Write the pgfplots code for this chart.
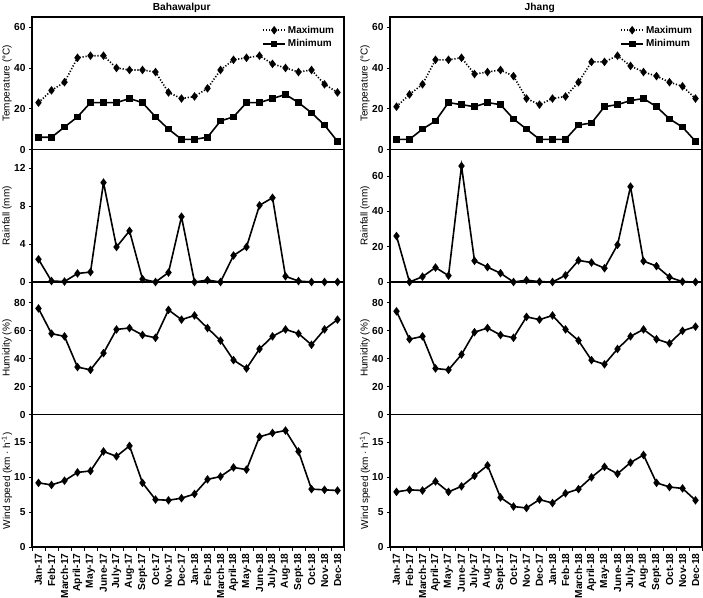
\documentclass[border=0pt]{standalone}
\usepackage{fontspec}
\setmainfont{Liberation Sans}
\usepackage{pgfplots}
\pgfplotsset{compat=1.18}
\usepackage{pgfplotstable}
\usepgfplotslibrary{groupplots}

% monthly means, Jan-17 .. Dec-18
\pgfplotstableread{
x  tmax tmin rain hum wind
0  23 6  2.4  76 9.2
1  29 6  0.1  58 8.9
2  33 11 0.05 56 9.5
3  45 16 0.9  34 10.7
4  46 23 1.05 32 10.9
5  46 23 10.5 44 13.7
6  40 23 3.7  61 13.0
7  39 25 5.4  62 14.5
8  39 23 0.3  57 9.2
9  38 16 0.0  55 6.8
10 28 10 1.0  75 6.7
11 25 5  6.9  68 7.0
12 26 5  0.0  71 7.6
13 30 6  0.2  62 9.7
14 39 14 0.0  53 10.1
15 44 16 2.8  39 11.4
16 45 23 3.7  33 11.1
17 46 23 8.1  47 15.8
18 42 25 8.9  56 16.35
19 40 27 0.6  61 16.7
20 38 23 0.1  58 13.7
21 39 18 0.0  50 8.3
22 32 12 0.0  61 8.2
23 28 4  0.0  68 8.1
}\bwp

\pgfplotstableread{
x  tmax tmin rain hum wind
0  21 5  26   74 7.9
1  27 5  0.0  54 8.2
2  32 10 3.0  56 8.1
3  44 14 8.2  33 9.4
4  44 23 3.6  32 7.9
5  45 22 65.7 43 8.7
6  37 21 12.0 59 10.2
7  38 23 8.4  62 11.7
8  39 22 5.0  57 7.1
9  36 15 0.0  55 5.8
10 25 10 1.0  70 5.6
11 22 5  0.2  68 6.8
12 25 5  0.0  71 6.3
13 26 5  3.8  61 7.7
14 33 12 12.2 53 8.3
15 43 13 11.0 39 10.0
16 43 21 7.8  36 11.5
17 46 22 21.0 47 10.5
18 41 24 54.0 56 12.1
19 38 25 11.8 61 13.2
20 36 21 9.0  54 9.2
21 33 15 2.7  51 8.6
22 31 11 0.2  60 8.4
23 25 4  0.0  63 6.7
}\jhg

\pgfplotsset{
  legend image code/.code={%
    \draw[mark repeat=2,mark phase=2] plot coordinates {(0pt,0pt)(11pt,0pt)(22pt,0pt)};},
  maxline/.style={black, line width=1.6pt, dash pattern=on 1.2pt off 1.8pt, mark=diamond*, mark size=3pt, mark options={solid}},
  minline/.style={black, line width=1.6pt, solid, mark=square*, mark size=2.5pt},
  dataline/.style={black, line width=1.6pt, solid, mark=diamond*, mark size=3pt},
  toplegend/.style={legend style={at={(0.985,0.965)}, anchor=north east, draw=none, fill=none,
    font=\bfseries\fontsize{10}{11}\selectfont, row sep=1pt, legend cell align=left,
    /tikz/every even column/.append style={column sep=2pt}}},
  bottomrow/.style={minor xtick={-0.5,0.5,...,23.5}},
}

\begin{document}
\begin{tikzpicture}
\begin{groupplot}[
  group style={group size=2 by 4, vertical sep=0pt, horizontal sep=46pt,
    xticklabels at=edge bottom, group name=group},
  scale only axis, width=312pt, height=132.5pt,
  xmin=-0.5, xmax=23.5,
  xtick={0,...,23},
  xticklabels={Jan-17,Feb-17,March-17,April-17,May-17,June-17,July-17,Aug-17,Sept-17,Oct-17,Nov-17,Dec-17,Jan-18,Feb-18,March-18,April-18,May-18,June-18,July-18,Aug-18,Sept-18,Oct-18,Nov-18,Dec-18},
  x tick label style={rotate=90, anchor=east},
  every major x tick/.append style={draw=none},
  ymin=0,
  ytick pos=left, xtick pos=bottom,
  tick align=outside,
  major tick length=3pt, minor tick length=4pt,
  tick style={black, line width=0.9pt},
  tick label style={font=\bfseries\fontsize{10.2}{11}\selectfont},
  /pgf/number format/assume math mode=true,
  label style={font=\bfseries\fontsize{10}{11}\selectfont},
  every axis y label/.style={at={(axis description cs:-0.08,0.5)}, rotate=90, anchor=center},
  title style={font=\bfseries\fontsize{10.2}{12}\selectfont, at={(0.48,1)}, anchor=base, inner sep=0pt, yshift=0pt},
  axis line style={line width=1.1pt},
]
% row 1: temperature
\nextgroupplot[ymax=65, ytick={0,20,40,60}, ylabel={Temperature (°C)}, title={Bahawalpur}, toplegend]
\addplot[maxline] table[x=x, y=tmax] {\bwp}; \addlegendentry{Maximum}
\addplot[minline] table[x=x, y=tmin] {\bwp}; \addlegendentry{Minimum}
\nextgroupplot[ymax=65, ytick={0,20,40,60}, ylabel={Temperature (°C)}, title={Jhang}, toplegend]
\addplot[maxline] table[x=x, y=tmax] {\jhg}; \addlegendentry{Maximum}
\addplot[minline] table[x=x, y=tmin] {\jhg}; \addlegendentry{Minimum}
% row 2: rainfall
\nextgroupplot[ymax=14, ytick={0,4,8,12}, ylabel={Rainfall (mm)}]
\addplot[dataline] table[x=x, y=rain] {\bwp};
\nextgroupplot[ymax=75, ytick={0,20,40,60}, ylabel={Rainfall (mm)}]
\addplot[dataline] table[x=x, y=rain] {\jhg};
% row 3: humidity
\nextgroupplot[ymax=95, ytick={0,20,40,60,80}, ylabel={Humidity (\%)}]
\addplot[dataline] table[x=x, y=hum] {\bwp};
\nextgroupplot[ymax=95, ytick={0,20,40,60,80}, ylabel={Humidity (\%)}]
\addplot[dataline] table[x=x, y=hum] {\jhg};
% row 4: wind speed
\nextgroupplot[ymax=19, ytick={0,5,10,15}, ylabel={Wind speed (km · h\textsuperscript{-1})}, bottomrow]
\addplot[dataline] table[x=x, y=wind] {\bwp};
\nextgroupplot[ymax=19, ytick={0,5,10,15}, ylabel={Wind speed (km · h\textsuperscript{-1})}, bottomrow]
\addplot[dataline] table[x=x, y=wind] {\jhg};
\end{groupplot}
\pgfresetboundingbox
\path[use as bounding box] (group c1r1.north west) ++(-32pt,17pt) rectangle ++(703pt,-597pt);
\end{tikzpicture}
\end{document}
